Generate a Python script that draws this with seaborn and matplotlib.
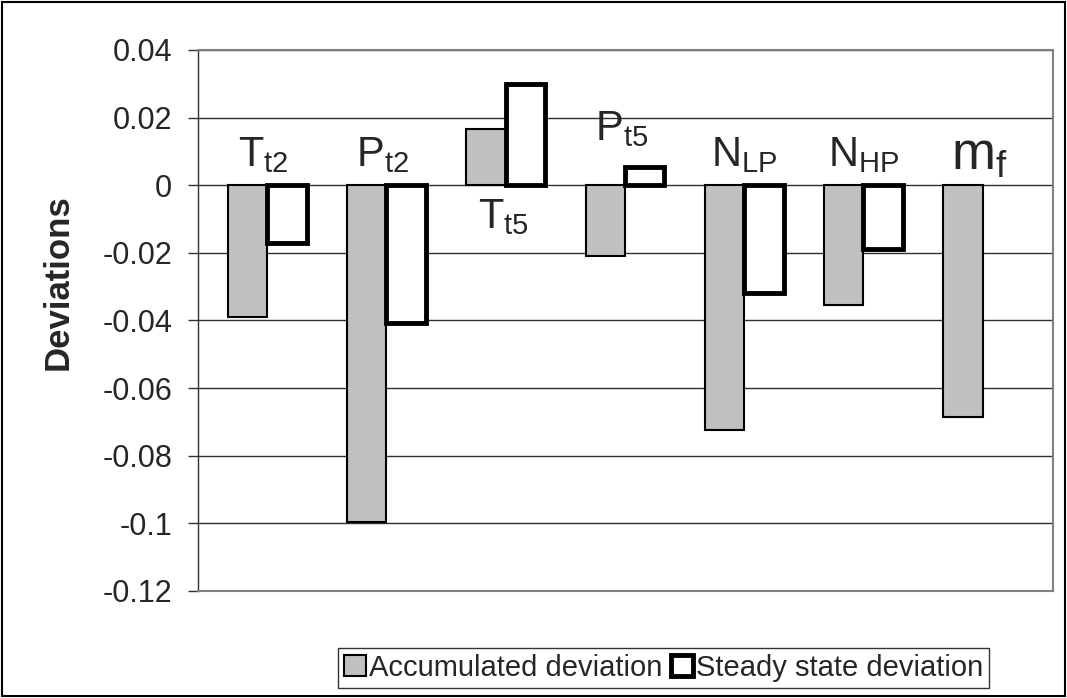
import numpy as np
import pandas as pd
import matplotlib
matplotlib.use("Agg")
import matplotlib.pyplot as plt
from matplotlib.patches import Rectangle
import seaborn as sns

# parameters (x axis)
categories = ["Tt2", "Pt2", "Tt5", "Pt5", "NLP", "NHP", "mf"]
cat_labels = [r"$\mathregular{T_{t2}}$", r"$\mathregular{P_{t2}}$", r"$\mathregular{T_{t5}}$",
              r"$\mathregular{P_{t5}}$", r"$\mathregular{N_{LP}}$", r"$\mathregular{N_{HP}}$",
              r"$\mathregular{m_{f}}$"]

accumulated = [-0.039, -0.0997, 0.0166, -0.0208, -0.0725, -0.0354, -0.0685]
steady_state = [-0.0171, -0.0407, 0.0299, 0.0053, -0.0318, -0.0189, np.nan]

series_names = ["Accumulated deviation", "Steady state deviation"]
y_ticks = [0.04, 0.02, 0, -0.02, -0.04, -0.06, -0.08, -0.1, -0.12]
y_ticklabels = ["0.04", "0.02", "0", "-0.02", "-0.04", "-0.06", "-0.08", "-0.1", "-0.12"]

df = pd.DataFrame({
    "Parameter": categories * 2,
    "Series": [series_names[0]] * len(categories) + [series_names[1]] * len(categories),
    "Deviation": accumulated + steady_state,
})

sns.set_style("white")
plt.rcParams["font.family"] = ["Liberation Sans", "DejaVu Sans"]
plt.rcParams["mathtext.fontset"] = "custom"
plt.rcParams["mathtext.rm"] = "Liberation Sans"

fig = plt.figure(figsize=(10.67, 6.98), dpi=100)
ax = fig.add_axes([0.1856, 0.1533, 0.8013, 0.7751])

sns.barplot(data=df, x="Parameter", y="Deviation", hue="Series", hue_order=series_names,
            order=categories, palette=["#c0c0c0", "white"], width=0.66, ax=ax,
            legend=True, zorder=3)

# bar borders: thin for accumulated, thick for steady state
for bar in ax.containers[0]:
    bar.set_edgecolor("black")
    bar.set_linewidth(1.5)
for bar in ax.containers[1]:
    bar.set_edgecolor("black")
    bar.set_linewidth(3.5)

ax.set_ylim(-0.12, 0.04)
ax.set_xlim(-0.58, 6.59)
ax.set_yticks(y_ticks)
ax.set_yticklabels(y_ticklabels, fontsize=22)
ax.set_xticks([])
ax.set_xlabel("")
ax.set_ylabel("Deviations", fontsize=25, fontweight="bold")
ax.yaxis.label.set_va("center")
ax.yaxis.set_label_coords(-0.164, 0.571)
ax.tick_params(axis="y", direction="out", length=7.5, width=1, color="#303030", pad=11, left=True)

ax.yaxis.grid(True, color="#303030", linewidth=1)
ax.set_axisbelow(True)
for side in ["top", "bottom", "right"]:
    ax.spines[side].set_color("#808080")
    ax.spines[side].set_linewidth(1.5)
ax.spines["left"].set_color("#303030")
ax.spines["left"].set_linewidth(1)

# parameter names written next to the bars
label_x = [-0.036, 0.97, 1.98, 2.97, 4.0, 5.0, 5.97]
label_y = [0.0057, 0.0057, -0.0126, 0.0134, 0.0057, 0.0057, 0.0045]
for i, txt in enumerate(cat_labels):
    size = 38 if categories[i] == "mf" else 30
    ax.text(label_x[i], label_y[i], txt, ha="center", va="baseline", fontsize=size, zorder=5)

# legend at the bottom, in a box
handles, labels = ax.get_legend_handles_labels()
ax.get_legend().remove()
leg = fig.legend(handles, labels, loc="center", bbox_to_anchor=(0.622, 0.043), ncol=2,
                 fontsize=21, frameon=True, fancybox=False, handlelength=0.75, handleheight=0.75,
                 handletextpad=0.1, columnspacing=0.3, borderpad=0.2, borderaxespad=0)
leg.get_frame().set_edgecolor("black")
leg.get_frame().set_linewidth(1)
for h, lw in zip(leg.legend_handles, [1.5, 3.5]):
    h.set_edgecolor("black")
    h.set_linewidth(lw)

# outer chart border
fig.patches.append(Rectangle((0.002, 0.003), 0.996, 0.994, transform=fig.transFigure,
                             fill=False, edgecolor="black", linewidth=1.5))

fig.savefig("out.png", dpi=100)
